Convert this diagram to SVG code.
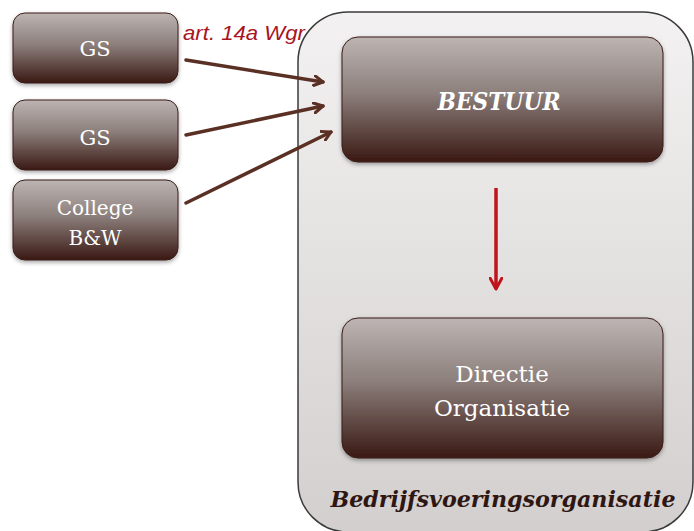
<svg xmlns="http://www.w3.org/2000/svg" width="694" height="531" viewBox="0 0 694 531">
  <defs>
    <linearGradient id="boxFill" x1="0" y1="0" x2="0" y2="1">
      <stop offset="0" stop-color="#bdb5b3"/>
      <stop offset="0.45" stop-color="#8c7f7c"/>
      <stop offset="1" stop-color="#3a1913"/>
    </linearGradient>
    <linearGradient id="frameFill" x1="0" y1="0" x2="0" y2="1">
      <stop offset="0" stop-color="#f3f1f1"/>
      <stop offset="1" stop-color="#d3cfcf"/>
    </linearGradient>
    <filter id="shadow" x="-10%" y="-10%" width="120%" height="130%">
      <feDropShadow dx="0" dy="2" stdDeviation="2" flood-color="#000" flood-opacity="0.35"/>
    </filter>
    <marker id="brownHead" viewBox="0 0 12 12" refX="10" refY="6" markerWidth="12" markerHeight="12" markerUnits="userSpaceOnUse" orient="auto">
      <path d="M1,1 L10,6 L1,11" fill="none" stroke="#5b3024" stroke-width="3" stroke-linecap="round" stroke-linejoin="round"/>
    </marker>
    <marker id="redHead" viewBox="0 0 14 14" refX="12" refY="7" markerWidth="14" markerHeight="14" markerUnits="userSpaceOnUse" orient="auto">
      <path d="M1,1 L12,7 L1,13" fill="none" stroke="#c0141c" stroke-width="3" stroke-linecap="round" stroke-linejoin="round"/>
    </marker>
  </defs>
  <style>
    .box { fill: url(#boxFill); stroke: #3a1d17; stroke-width: 1; filter: url(#shadow); }
    .lbl { font-family: "DejaVu Serif", "Liberation Serif", serif; fill: #ffffff; text-anchor: middle; }
    .conn { stroke: #5b3024; stroke-width: 3.5; fill: none; stroke-linecap: round; marker-end: url(#brownHead); }
  </style>

  <!-- outer organisation frame -->
  <g id="frame">
    <rect x="298" y="12" width="395" height="520" rx="50" ry="50" fill="url(#frameFill)" stroke="#3b3b3b" stroke-width="1.5"/>
    <text x="503" y="507" font-family="DejaVu Serif, Liberation Serif, serif" font-weight="bold" font-style="italic" font-size="23" fill="#2e1712" text-anchor="middle" textLength="345" lengthAdjust="spacingAndGlyphs">Bedrijfsvoeringsorganisatie</text>
  </g>

  <!-- source nodes -->
  <g id="gs1">
    <rect class="box" x="13" y="13" width="165" height="70" rx="12"/>
    <text class="lbl" x="95" y="56" font-size="21">GS</text>
  </g>
  <g id="gs2">
    <rect class="box" x="13" y="100" width="165" height="70" rx="12"/>
    <text class="lbl" x="95" y="145" font-size="21">GS</text>
  </g>
  <g id="college">
    <rect class="box" x="13" y="180" width="165" height="80" rx="12"/>
    <text class="lbl" x="95" y="215" font-size="20">College</text>
    <text class="lbl" x="95" y="245" font-size="20">B&amp;W</text>
  </g>

  <!-- board and management -->
  <g id="bestuur">
    <rect class="box" x="342" y="37" width="321" height="125" rx="16"/>
    <text class="lbl" x="499" y="110" font-size="24" font-weight="bold" font-style="italic" textLength="123" lengthAdjust="spacingAndGlyphs">BESTUUR</text>
  </g>
  <g id="directie">
    <rect class="box" x="342" y="318" width="321" height="140" rx="16"/>
    <text class="lbl" x="502" y="382" font-size="23">Directie</text>
    <text class="lbl" x="502" y="416" font-size="23">Organisatie</text>
  </g>

  <!-- connectors -->
  <g id="connectors">
    <line class="conn" x1="186" y1="60" x2="323" y2="82"/>
    <line class="conn" x1="186" y1="135" x2="323" y2="106"/>
    <line class="conn" x1="186" y1="203" x2="331" y2="132"/>
    <line x1="496" y1="188" x2="496" y2="289" stroke="#c0141c" stroke-width="3.5" marker-end="url(#redHead)"/>
    <text x="183" y="40" font-family="Liberation Sans, Arial, sans-serif" font-style="italic" font-size="21" fill="#a8141f" textLength="122" lengthAdjust="spacingAndGlyphs">art. 14a Wgr</text>
  </g>
</svg>
